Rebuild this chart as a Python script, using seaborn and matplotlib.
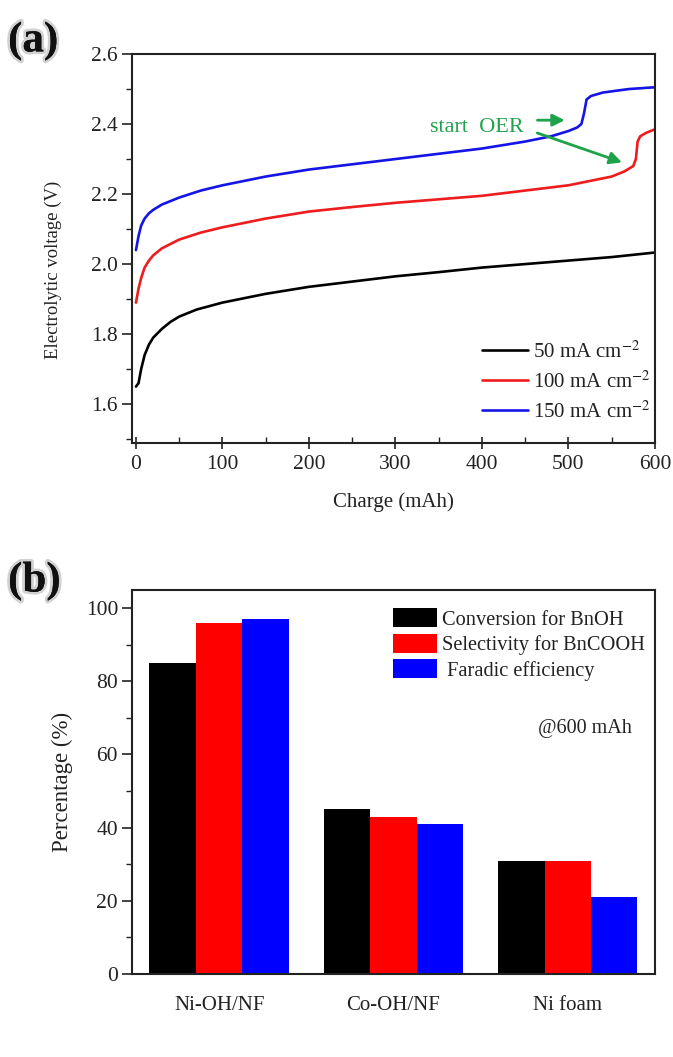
import numpy as np
import pandas as pd
import matplotlib
matplotlib.use("Agg")
import matplotlib.pyplot as plt
import matplotlib.patheffects as pe
from matplotlib.ticker import MultipleLocator, FormatStrFormatter
import seaborn as sns

sns.set_theme(style="white")
plt.rcParams['font.family'] = ['Liberation Serif', 'DejaVu Serif']
plt.rcParams['mathtext.fontset'] = 'stix'

# ---- (a) charging curves: charge (mAh) vs. electrolytic voltage (V) ----
q_50 = [0, 3, 6, 10, 15, 20, 30, 40, 50, 70, 100, 150, 200, 250, 300, 350, 400, 450, 500, 550, 600]
v_50 = [1.65, 1.66, 1.70, 1.74, 1.77, 1.79, 1.815, 1.835, 1.85, 1.87, 1.89, 1.915, 1.935, 1.95,
        1.965, 1.977, 1.99, 2.0, 2.01, 2.02, 2.033]

q_100 = [0, 3, 6, 10, 15, 20, 30, 50, 75, 100, 150, 200, 250, 300, 350, 400, 450, 500, 530, 550,
         565, 575, 578, 580, 583, 590, 600]
v_100 = [1.89, 1.93, 1.96, 1.99, 2.01, 2.025, 2.045, 2.07, 2.09, 2.105, 2.13, 2.15, 2.163, 2.175,
         2.185, 2.195, 2.21, 2.225, 2.24, 2.25, 2.265, 2.28, 2.30, 2.35, 2.365, 2.375, 2.385]

q_150 = [0, 3, 6, 10, 15, 20, 30, 50, 75, 100, 150, 200, 250, 300, 350, 400, 450, 480, 500, 510,
         515, 518, 521, 526, 540, 570, 600]
v_150 = [2.04, 2.08, 2.11, 2.13, 2.145, 2.155, 2.17, 2.19, 2.21, 2.225, 2.25, 2.27, 2.285, 2.30,
         2.315, 2.33, 2.35, 2.365, 2.38, 2.39, 2.40, 2.43, 2.47, 2.48, 2.49, 2.50, 2.505]

curve_labels = ["50 mA cm$^{-2}$", "100 mA cm$^{-2}$", "150 mA cm$^{-2}$"]
curve_colors = ["#000000", "#ee1c1c", "#1414e6"]

# ---- (b) product analysis at 600 mAh ----
catalysts = ["Ni-OH/NF", "Co-OH/NF", "Ni foam"]
metrics = ["Conversion for BnOH", "Selectivity for BnCOOH", " Faradic efficiency"]
conversion = [85, 45, 31]
selectivity = [96, 43, 31]
faradaic = [97, 41, 21]
bar_colors = ["#000000", "#ff0000", "#0000ff"]

ink = "#222222"

fig = plt.figure(figsize=(6.73, 10.57), dpi=100)
ax1 = fig.add_axes([0.1961, 0.5809, 0.777, 0.368])
ax2 = fig.add_axes([0.1961, 0.0785, 0.777, 0.3633])

curves = pd.concat([
    pd.DataFrame({"charge": q, "voltage": v, "density": lab})
    for q, v, lab in zip([q_50, q_100, q_150], [v_50, v_100, v_150], curve_labels)
])
sns.lineplot(data=curves, x="charge", y="voltage", hue="density", hue_order=curve_labels,
             palette=curve_colors, linewidth=1.9, sort=False, estimator=None, ax=ax1)

ax1.set_xlim(-4.6, 600)
ax1.set_ylim(1.489, 2.6)
ax1.xaxis.set_major_locator(MultipleLocator(100))
ax1.xaxis.set_minor_locator(MultipleLocator(50))
ax1.yaxis.set_major_locator(MultipleLocator(0.2))
ax1.yaxis.set_minor_locator(MultipleLocator(0.1))
ax1.yaxis.set_major_formatter(FormatStrFormatter('%.1f'))
ax1.set_xlabel("Charge (mAh)", fontsize=15, color=ink)
ax1.set_ylabel("Electrolytic voltage (V)", fontsize=13.5, color=ink)
ax1.xaxis.set_label_coords(0.5, -0.126)
ax1.yaxis.set_label_coords(-0.134, 0.445)

leg1 = ax1.legend(loc="upper left", bbox_to_anchor=(0.669, 0.262), frameon=False, fontsize=15,
                  handlelength=2.2, handletextpad=0.25, labelspacing=0.42,
                  borderpad=0, borderaxespad=0)
for t in leg1.get_texts():
    t.set_color(ink)

green = "#1fa34a"
ax1.text(340, 2.389, "start  OER", color=green, fontsize=16, va="center", ha="left")
ax1.annotate("", xy=(499, 2.411), xytext=(461, 2.411),
             arrowprops=dict(arrowstyle="-|>", color=green, lw=2.0, mutation_scale=18))
ax1.annotate("", xy=(565, 2.288), xytext=(461, 2.377),
             arrowprops=dict(arrowstyle="-|>", color=green, lw=2.0, mutation_scale=18))

bars = pd.DataFrame({
    "catalyst": catalysts * 3,
    "metric": [metrics[0]] * 3 + [metrics[1]] * 3 + [metrics[2]] * 3,
    "value": conversion + selectivity + faradaic,
})
sns.barplot(data=bars, x="catalyst", y="value", hue="metric", hue_order=metrics,
            order=catalysts, palette=bar_colors, saturation=1, width=0.8,
            linewidth=0, ax=ax2)
ax2.set_xlim(-0.5, 2.5)
ax2.set_ylim(0, 104.9)
ax2.yaxis.set_major_locator(MultipleLocator(20))
ax2.yaxis.set_minor_locator(MultipleLocator(10))
ax2.set_xlabel("")
ax2.set_ylabel("Percentage (%)", fontsize=16.5, color=ink)
ax2.yaxis.set_label_coords(-0.113, 0.5)
ax2.tick_params(axis="x", length=0, pad=16, labelsize=15)

leg2 = ax2.legend(loc="upper left", bbox_to_anchor=(0.499, 0.953), frameon=False, fontsize=14.7,
                  handlelength=2.15, handleheight=1.05, handletextpad=0.25, labelspacing=0.2,
                  borderpad=0, borderaxespad=0)
for t in leg2.get_texts():
    t.set_color(ink)
ax2.text(0.866, 0.64, "@600 mAh", transform=ax2.transAxes, fontsize=14.5, color=ink,
         ha="center", va="center")

for ax in (ax1, ax2):
    for s in ax.spines.values():
        s.set_visible(True)
        s.set_color(ink)
        s.set_linewidth(1.5)
    ax.tick_params(axis="y", which="major", direction="out", length=7, width=1.2, pad=3,
                   labelsize=15.5, colors=ink, left=True)
    ax.tick_params(axis="y", which="minor", direction="out", length=4, width=1.0, left=True,
                   colors=ink)
ax1.tick_params(axis="x", which="major", direction="inout", length=9, width=1.2, pad=4,
                labelsize=15.5, colors=ink, bottom=True)
ax1.tick_params(axis="x", which="minor", direction="in", length=4.5, width=1.0, bottom=True,
                colors=ink)
ax2.tick_params(axis="x", colors=ink)

halo = [pe.withStroke(linewidth=4, foreground="#9a9a9a", alpha=0.45), pe.Normal()]
fig.text(0.012, 0.961, "(a)", fontsize=31, fontweight="bold", va="center", ha="left",
         color="#111111", path_effects=halo)
fig.text(0.012, 0.450, "(b)", fontsize=31, fontweight="bold", va="center", ha="left",
         color="#111111", path_effects=halo)

fig.savefig("out.png", dpi=100)
